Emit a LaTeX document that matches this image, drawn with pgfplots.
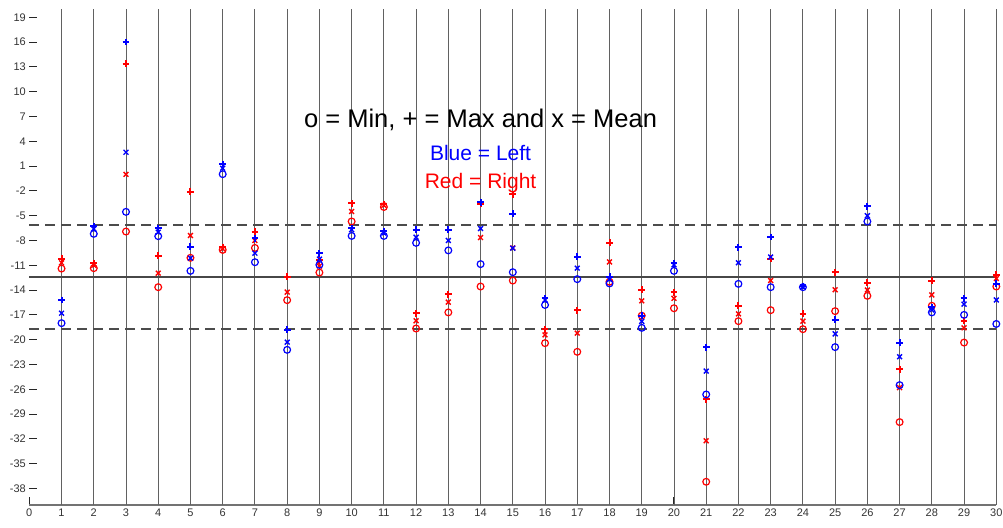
\documentclass[border=0pt]{standalone}
\usepackage{fontspec}
\setmainfont{Liberation Sans}
\usepackage{pgfplots}
\pgfplotsset{compat=1.18}
\usepackage{pgfplotstable}

\pgfplotstableread{
x lmax lmean lmin rmax rmean rmin
1 -15.2 -16.8 -18.0 -10.2 -10.7 -11.4
2 -6.3 -6.6 -7.2 -10.75 -11.0 -11.35
3 16.0 2.67 -4.54 13.4 0.0 -6.92
4 -6.5 -7.0 -7.48 -9.86 -11.96 -13.65
5 -8.74 -10.14 -11.68 -2.12 -7.4 -10.1
6 1.26 0.74 0.02 -8.8 -9.0 -9.14
7 -7.72 -9.54 -10.63 -6.92 -8.0 -8.9
8 -18.81 -20.3 -21.23 -12.37 -14.25 -15.22
9 -9.54 -10.26 -10.95 -10.4 -11.1 -11.88
10 -6.5 -6.7 -7.45 -3.5 -4.5 -5.7
11 -6.9 -7.1 -7.45 -3.6 -3.75 -3.95
12 -6.72 -7.6 -8.29 -16.8 -17.72 -18.65
13 -6.72 -8.0 -9.2 -14.5 -15.46 -16.7
14 -3.4 -6.56 -10.86 -3.58 -7.65 -13.57
15 -4.78 -8.93 -11.84 -2.4 -8.9 -12.85
16 -14.98 -15.2 -15.8 -18.74 -19.42 -20.42
17 -9.95 -11.35 -12.68 -16.43 -19.21 -21.47
18 -12.37 -12.7 -13.2 -8.25 -10.6 -13.0
19 -17.1 -17.8 -18.57 -13.97 -15.3 -17.1
20 -10.75 -10.95 -11.68 -14.25 -15.0 -16.2
21 -20.9 -23.8 -26.63 -27.2 -32.23 -37.19
22 -8.81 -10.7 -13.25 -15.87 -16.88 -17.76
23 -7.57 -10.0 -13.65 -10.2 -12.85 -16.43
24 -13.5 -13.6 -13.65 -16.84 -17.76 -18.73
25 -17.6 -19.3 -20.9 -11.84 -13.97 -16.55
26 -3.85 -5.0 -5.7 -13.1 -14.0 -14.7
27 -20.35 -22.07 -25.5 -23.6 -25.8 -29.97
28 -16.1 -16.4 -16.7 -12.85 -14.58 -15.9
29 -15.0 -15.7 -17.0 -17.7 -18.57 -20.35
30 -13.25 -15.2 -18.1 -12.16 -12.6 -13.57
}\data

\pgfplotstableread{
x top bot
1 20 -40
2 20 -40
3 20 -40
4 20 -40
5 20 -40
6 20 -40
7 20 -40
8 20 -40
9 20 -40
10 20 -40
11 20 -40
12 20 -40
13 20 -40
14 20 -40
15 20 -40
16 20 -40
17 20 -40
18 20 -40
19 20 -40
20 20 -40
21 20 -40
22 20 -40
23 20 -40
24 20 -40
25 20 -40
26 20 -40
27 20 -40
28 20 -40
29 20 -40
30 20 -40
}\gridtab

\pgfplotstableread{
x y
0 -12.37
30 -12.37
}\meanline
\pgfplotstableread{
x y
0 -6.11
30 -6.11
}\upline
\pgfplotstableread{
x y
0 -18.69
30 -18.69
}\lowline

\begin{document}
\begin{tikzpicture}
\begin{axis}[
  scale only axis, width=967pt, height=496pt,
  xmin=0, xmax=30, ymin=-40, ymax=20,
  axis x line*=bottom, axis y line*=left,
  x axis line style={-, black!55, line width=1.3pt},
  y axis line style={-, draw=none},
  xtick={0,...,30}, ytick={-38,-35,...,19},
  tick align=inside,
  major tick length=8pt,
  tick style={black!85, line width=1pt},
  /pgf/number format/assume math mode=true,
  ticklabel style={font=\fontsize{11}{13}\selectfont, text=black!80},
  clip=false,
]
\addplot[ycomb, no marks, black!62, line width=0.9pt] table[x=x,y=top]{\gridtab};
\addplot[ycomb, no marks, black!62, line width=0.9pt] table[x=x,y=bot]{\gridtab};

\addplot[black!72, line width=1.9pt] table[x=x,y=y]{\meanline};
\addplot[black!70, line width=1.6pt, dash pattern=on 10pt off 6pt] table[x=x,y=y]{\upline};
\addplot[black!70, line width=1.6pt, dash pattern=on 10pt off 6pt] table[x=x,y=y]{\lowline};

\addplot[only marks, red, mark=o, mark size=3.4pt, mark options={line width=1.2pt}] table[x=x,y=rmin]{\data};
\addplot[only marks, red, mark=+, mark size=3.4pt, mark options={line width=2pt}] table[x=x,y=rmax]{\data};
\addplot[only marks, red, mark=x, mark size=3.4pt, mark options={line width=1.4pt}] table[x=x,y=rmean]{\data};

\addplot[only marks, blue, mark=o, mark size=3.4pt, mark options={line width=1.2pt}] table[x=x,y=lmin]{\data};
\addplot[only marks, blue, mark=+, mark size=3.4pt, mark options={line width=2pt}] table[x=x,y=lmax]{\data};
\addplot[only marks, blue, mark=x, mark size=3.4pt, mark options={line width=1.4pt}] table[x=x,y=lmean]{\data};

\node[font=\fontsize{25.5}{30}\selectfont, text=black] at (axis cs:14,6.6) {o = Min, + = Max and x = Mean};
\node[font=\fontsize{21}{25}\selectfont, text=blue] at (axis cs:14,2.6) {Blue = Left};
\node[font=\fontsize{21}{25}\selectfont, text=red] at (axis cs:14,-1.1) {Red = Right};
\end{axis}
\pgfresetboundingbox
\path[use as bounding box] ([xshift=-29.3pt,yshift=-22pt]current axis.south west) rectangle ([xshift=6.7pt,yshift=9pt]current axis.north east);
\end{tikzpicture}
\end{document}
